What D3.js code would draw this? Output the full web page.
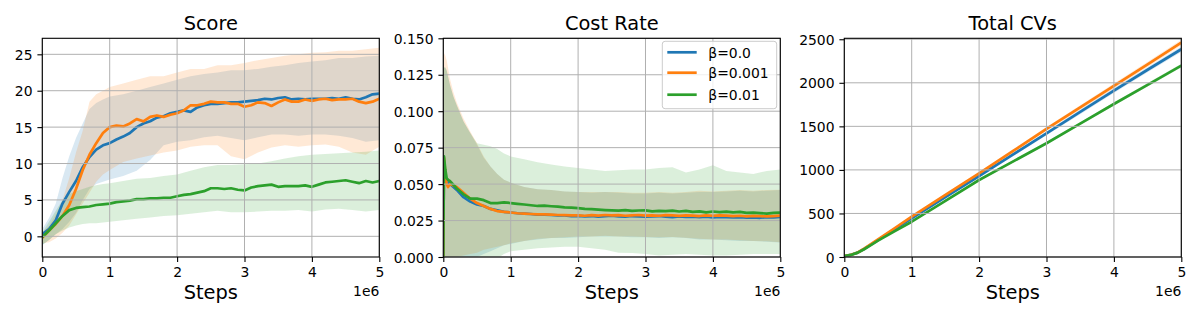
<!DOCTYPE html>
<html><head><meta charset="utf-8">
<script src="https://cdn.jsdelivr.net/npm/d3@7"></script>
<style>
body{margin:0;background:#fff}
svg{display:block}
text{font-family:"DejaVu Sans",sans-serif;fill:#000}
</style></head>
<body><svg id="c" width="1200" height="320"></svg>
<script>
// ---------- data (steps in units of 1e6) ----------
const seriesNames = ["β=0.0", "β=0.001", "β=0.01"];
const xTicks = [0, 1, 2, 3, 4, 5];
const xTickLabels = ["0", "1", "2", "3", "4", "5"];

// Score
const scoreSteps = [0,0.1,0.2,0.3,0.4,0.5,0.6,0.7,0.8,0.9,1,1.1,1.2,1.3,1.4,1.5,1.6,1.7,1.8,1.9,2,2.1,2.2,2.3,2.4,2.5,2.6,2.7,2.8,2.9,3,3.1,3.2,3.3,3.4,3.5,3.6,3.7,3.8,3.9,4,4.1,4.2,4.3,4.4,4.5,4.6,4.7,4.8,4.9,5];
const scoreB0 = [0.3,1.0,2.2,4.5,6.1,7.6,9.5,10.9,11.9,12.5,12.8,13.3,13.7,14.2,15.0,15.5,15.8,16.3,16.5,16.9,17.1,17.3,17.1,17.7,18.0,18.2,18.2,18.3,18.4,18.4,18.5,18.6,18.7,18.9,18.8,19.0,19.1,18.8,18.9,18.8,18.9,18.9,18.9,19.0,18.9,19.1,18.9,18.8,19.1,19.5,19.6];
const scoreB001 = [-0.2,0.8,1.7,2.8,4.3,6.5,9.1,11.2,12.8,14.2,15.0,15.2,15.1,15.5,16.1,15.8,16.4,16.6,16.4,16.7,16.9,17.3,18.0,18.0,18.2,18.5,18.4,18.4,18.2,18.2,17.8,18.0,18.4,18.3,17.9,18.4,18.8,18.5,18.5,18.8,18.6,18.8,18.9,18.7,18.8,18.8,18.9,18.5,18.3,18.5,18.9];
const scoreB01 = [-0.1,0.8,1.8,2.8,3.6,3.9,4.0,4.1,4.3,4.4,4.5,4.7,4.8,4.9,5.1,5.1,5.2,5.2,5.3,5.3,5.5,5.7,5.8,6.0,6.2,6.6,6.6,6.5,6.6,6.4,6.3,6.7,6.9,7.0,7.1,6.8,6.9,6.9,6.9,7.0,6.8,7.1,7.4,7.5,7.6,7.7,7.5,7.3,7.6,7.4,7.6];
const scoreBandSteps = [0,0.1,0.2,0.3,0.4,0.5,0.6,0.7,0.8,0.9,1,1.2,1.4,1.6,1.8,2,2.2,2.4,2.6,2.8,3,3.2,3.4,3.6,3.8,4,4.2,4.4,4.6,4.8,5];
const scoreB0Hi = [1,2.5,4.5,8,11,13.5,15.5,17.5,18.3,18.8,19.2,19.5,20,20.5,21,21.5,22,22.3,22.5,22.8,22.8,23,23.3,23.5,23.8,24,24.2,24.5,24.5,24.7,24.8];
const scoreB0Lo = [-1.2,-0.5,0.3,1,2,3.2,5,6.5,7.2,7.5,7.8,8.3,9,10.5,12.5,13,13.2,13.6,13.8,13.5,13.2,13.6,14,14,13.8,14,14,13.8,13.5,13,13.2];
const scoreB001Hi = [0.5,1.5,3,5,8,11.5,14.5,18.5,19.5,20,20.5,21,21.5,22,22,22.5,23,23,23.5,23.5,23.8,24.2,24.5,24.8,25,25.2,25.3,25.5,25.5,25.7,25.9];
const scoreB001Lo = [-1,-0.8,-0.3,0.5,1.5,3,4.5,6,7.5,8.5,9.1,10.2,10.7,11.1,11.5,11.8,12.3,12.5,12.5,11,10.6,11.5,12.2,12.5,12.3,12.5,12.6,12.3,11.5,11.2,12.3];
const scoreB01Hi = [0.5,2,3.5,5,5.8,6.2,6.5,6.8,7,7.2,7.3,7.6,7.9,8,8.3,8.5,9,9.5,9.8,9.8,9.9,10,10.3,10.7,11,11.2,11.3,11.4,11.5,11.6,11.8];
const scoreB01Lo = [-1.2,-0.5,0.3,0.8,1.2,1.5,1.7,1.8,1.8,1.9,2,2.2,2.4,2.6,2.8,2.9,3.1,3.3,3.5,3.3,3.3,3.4,3.5,3.5,3.6,3.4,3.7,3.8,3.6,3.4,3.6];
const scoreYTicks = [0, 5, 10, 15, 20, 25];
const scoreYTickLabels = ["0", "5", "10", "15", "20", "25"];

// Cost Rate
const costSteps = [0,0.01,0.03,0.05,0.07,0.1,0.2,0.3,0.4,0.5,0.6,0.7,0.8,0.9,1,1.1,1.2,1.3,1.4,1.5,1.6,1.7,1.8,1.9,2,2.1,2.2,2.3,2.4,2.5,2.6,2.7,2.8,2.9,3,3.1,3.2,3.3,3.4,3.5,3.6,3.7,3.8,3.9,4,4.1,4.2,4.3,4.4,4.5,4.6,4.7,4.8,4.9,5];
const costB0 = [0,0.066,0.056,0.052,0.051,0.050,0.046,0.041,0.038,0.036,0.035,0.033,0.032,0.031,0.0305,0.030,0.0298,0.0295,0.029,0.029,0.0288,0.0285,0.0285,0.028,0.0282,0.0278,0.0281,0.0276,0.028,0.0283,0.0279,0.0277,0.0281,0.0279,0.0276,0.0279,0.0281,0.0277,0.0274,0.0278,0.0275,0.0277,0.0273,0.0276,0.0272,0.0275,0.0273,0.0271,0.0274,0.0270,0.0272,0.0269,0.0273,0.0271,0.0275];
const costB001 = [0,0.068,0.057,0.050,0.048,0.050,0.048,0.044,0.040,0.037,0.035,0.033,0.0315,0.031,0.0305,0.030,0.0298,0.0295,0.0293,0.0292,0.029,0.0288,0.0287,0.0285,0.0286,0.0283,0.0287,0.0284,0.0288,0.0285,0.0287,0.0283,0.0286,0.0288,0.0284,0.0286,0.0283,0.0287,0.0285,0.0282,0.0286,0.0284,0.0281,0.0285,0.0283,0.0286,0.0284,0.0281,0.0283,0.0279,0.0282,0.0280,0.0278,0.0281,0.0284];
const costB01 = [0,0.069,0.060,0.054,0.053,0.052,0.047,0.043,0.040,0.040,0.039,0.037,0.037,0.0375,0.037,0.0365,0.036,0.0355,0.035,0.0352,0.0348,0.0345,0.034,0.0338,0.0335,0.033,0.0328,0.0325,0.0322,0.032,0.0318,0.0322,0.0316,0.0319,0.032,0.0313,0.0317,0.0314,0.0318,0.0312,0.0316,0.0309,0.0313,0.0306,0.0312,0.0308,0.0311,0.0306,0.0309,0.0303,0.0305,0.0301,0.0298,0.0302,0.0305];
const costBandSteps = [0,0.01,0.03,0.05,0.1,0.15,0.2,0.3,0.4,0.5,0.6,0.7,0.8,0.9,1,1.2,1.4,1.6,1.8,2,2.2,2.4,2.6,2.8,3,3.2,3.4,3.6,3.8,4,4.2,4.4,4.6,4.8,5];
const costB0Hi = [0,0.13,0.13,0.128,0.118,0.11,0.104,0.093,0.085,0.077,0.068,0.062,0.057,0.053,0.051,0.048,0.0465,0.046,0.045,0.0445,0.044,0.0445,0.044,0.0435,0.0435,0.044,0.0435,0.044,0.0445,0.0445,0.045,0.0455,0.045,0.0455,0.046];
const costB0Lo = [0,-0.01,-0.01,-0.01,-0.008,-0.006,-0.004,-0.002,-0.001,0,0.002,0.004,0.006,0.008,0.009,0.011,0.012,0.013,0.013,0.0135,0.014,0.014,0.014,0.0135,0.0135,0.013,0.0135,0.013,0.012,0.012,0.0115,0.011,0.011,0.0105,0.010];
const costB001Hi = [0,0.14,0.138,0.135,0.122,0.113,0.106,0.095,0.086,0.078,0.069,0.062,0.057,0.053,0.051,0.048,0.0465,0.046,0.045,0.0445,0.0445,0.0445,0.0445,0.044,0.044,0.0445,0.044,0.0445,0.0455,0.045,0.0455,0.046,0.0455,0.046,0.0462];
const costB001Lo = [0,-0.005,-0.004,-0.003,-0.002,-0.001,0,0.001,0.002,0.003,0.005,0.006,0.007,0.008,0.0095,0.011,0.0125,0.013,0.0135,0.014,0.014,0.0145,0.014,0.014,0.0138,0.0135,0.0138,0.0132,0.0125,0.012,0.012,0.0115,0.011,0.0108,0.0102];
const costB01Hi = [0,0.13,0.13,0.128,0.118,0.11,0.104,0.093,0.085,0.078,0.077,0.076,0.074,0.071,0.069,0.067,0.065,0.0635,0.062,0.061,0.06,0.059,0.0595,0.06,0.06,0.061,0.0615,0.058,0.06,0.063,0.059,0.058,0.057,0.059,0.06];
const costB01Lo = [0,-0.02,-0.02,-0.02,-0.018,-0.016,-0.014,-0.012,-0.01,-0.008,-0.005,-0.003,-0.001,0.002,0.004,0.005,0.006,0.0065,0.007,0.007,0.006,0.005,0.003,0.0027,0.002,0.001,0.0015,0.002,0.0015,0.001,0.001,0.0015,0.002,0.002,0.002];
const costYTicks = [0, 0.025, 0.05, 0.075, 0.1, 0.125, 0.15];
const costYTickLabels = ["0.000", "0.025", "0.050", "0.075", "0.100", "0.125", "0.150"];

// Total CVs
const cvSteps = [0,0.1,0.2,0.3,0.4,0.5,0.75,1,1.5,2,2.5,3,3.5,4,4.5,5];
const cvB0 = [10,25,50,95,145,195,320,444,687,930,1175,1420,1665,1910,2150,2385];
const cvB001 = [10,25,52,98,150,203,333,463,712,961,1215,1470,1717,1964,2212,2461];
const cvB01 = [10,24,50,92,140,188,297,405,645,884,1095,1306,1531,1757,1977,2197];
const cvB0Hi = [12,28,54,100,151,203,330,456,702,948,1195,1442,1690,1938,2180,2417];
const cvB0Lo = [8,22,46,90,139,187,310,432,672,912,1155,1398,1640,1882,2120,2353];
const cvB001Hi = [12,28,56,103,156,211,343,475,727,979,1235,1492,1742,1992,2242,2493];
const cvB001Lo = [8,22,48,93,144,195,323,451,697,943,1195,1448,1692,1936,2182,2429];
const cvB01Hi = [11,26,53,96,145,194,305,414,656,896,1108,1321,1547,1775,1997,2218];
const cvB01Lo = [9,22,47,88,135,182,289,396,634,872,1082,1291,1515,1739,1957,2176];
const cvYTicks = [0, 500, 1000, 1500, 2000, 2500];
const cvYTickLabels = ["0", "500", "1000", "1500", "2000", "2500"];

// ---------- drawing ----------
const colors = ["#1f77b4", "#ff7f0e", "#2ca02c"];
const svg = d3.select("#c");
const TOP = 38.3, BOTTOM = 257, W = 337;
const H = BOTTOM - TOP;
const TICK_FS = 13.9, TITLE_FS = 19.4;

function panel(opt, idx) {
  const g = svg.append("g").attr("transform", `translate(${opt.left},${TOP})`);
  const x = d3.scaleLinear().domain([0, 5]).range([0, W]);
  const y = d3.scaleLinear().domain(opt.yDomain).range([H, 0]);
  const clipId = "clip" + idx;
  g.append("clipPath").attr("id", clipId).append("rect").attr("width", W).attr("height", H);
  const plot = g.append("g").attr("clip-path", `url(#${clipId})`);

  // bands
  opt.bands.forEach((b, i) => {
    const area = d3.area()
      .x(j => x(b.steps[j])).y0(j => y(b.lo[j])).y1(j => y(b.hi[j]));
    plot.append("path").attr("d", area(d3.range(b.steps.length)))
      .attr("fill", colors[i]).attr("fill-opacity", 0.17).attr("stroke", "none");
  });

  // grid
  const grid = g.append("g");
  xTicks.forEach(t => grid.append("line").attr("x1", x(t)).attr("x2", x(t)).attr("y1", 0).attr("y2", H)
    .attr("stroke", "#b0b0b0").attr("stroke-width", 1));
  opt.yTicks.forEach(t => grid.append("line").attr("x1", 0).attr("x2", W).attr("y1", y(t)).attr("y2", y(t))
    .attr("stroke", "#b0b0b0").attr("stroke-width", 1));

  // lines
  opt.lines.forEach((l, i) => {
    const line = d3.line().x(j => x(l.steps[j])).y(j => y(l.v[j]));
    plot.append("path").attr("d", line(d3.range(l.steps.length)))
      .attr("fill", "none").attr("stroke", colors[i]).attr("stroke-width", 2.7)
      .attr("stroke-linejoin", "round");
  });

  // spines
  g.append("rect").attr("width", W).attr("height", H).attr("fill", "none")
    .attr("stroke", "#000").attr("stroke-width", 1.1);

  // axes ticks via d3 axes
  const xAxis = d3.axisBottom(x).tickValues(xTicks).tickFormat((d, i) => xTickLabels[i])
    .tickSizeInner(4.9).tickSizeOuter(0).tickPadding(4.9);
  const xa = g.append("g").attr("transform", `translate(0,${H})`).call(xAxis);
  xa.select(".domain").remove();
  xa.selectAll("line").attr("stroke", "#000").attr("stroke-width", 1.1);
  xa.selectAll("text").attr("font-family", "DejaVu Sans").attr("font-size", TICK_FS).attr("fill", "#000")
    .attr("dy", null).attr("y", 19.5);

  const yAxis = d3.axisLeft(y).tickValues(opt.yTicks).tickFormat((d, i) => opt.yTickLabels[i])
    .tickSizeInner(4.9).tickSizeOuter(0).tickPadding(4.9);
  const ya = g.append("g").call(yAxis);
  ya.select(".domain").remove();
  ya.selectAll("line").attr("stroke", "#000").attr("stroke-width", 1.1);
  ya.selectAll("text").attr("font-family", "DejaVu Sans").attr("font-size", TICK_FS).attr("fill", "#000")
    .attr("dy", "0.36em");

  // title, xlabel, offset
  g.append("text").attr("x", W / 2).attr("y", 30 - TOP).attr("text-anchor", "middle")
    .attr("font-size", TITLE_FS).text(opt.title);
  g.append("text").attr("x", W / 2).attr("y", 298.7 - TOP).attr("text-anchor", "middle")
    .attr("font-size", TITLE_FS).text("Steps");
  g.append("text").attr("x", W).attr("y", 295.7 - TOP).attr("text-anchor", "end")
    .attr("font-size", TICK_FS).text("1e6");
  return g;
}

panel({
  left: 42.3, title: "Score", yDomain: [-2.84, 27.2], yTicks: scoreYTicks, yTickLabels: scoreYTickLabels,
  bands: [
    {steps: scoreBandSteps, hi: scoreB0Hi, lo: scoreB0Lo},
    {steps: scoreBandSteps, hi: scoreB001Hi, lo: scoreB001Lo},
    {steps: scoreBandSteps, hi: scoreB01Hi, lo: scoreB01Lo}],
  lines: [{steps: scoreSteps, v: scoreB0}, {steps: scoreSteps, v: scoreB001}, {steps: scoreSteps, v: scoreB01}]
}, 0);

const costPanel = panel({
  left: 443.3, title: "Cost Rate", yDomain: [0, 0.15], yTicks: costYTicks, yTickLabels: costYTickLabels,
  bands: [
    {steps: costBandSteps, hi: costB0Hi, lo: costB0Lo},
    {steps: costBandSteps, hi: costB001Hi, lo: costB001Lo},
    {steps: costBandSteps, hi: costB01Hi, lo: costB01Lo}],
  lines: [{steps: costSteps, v: costB0}, {steps: costSteps, v: costB001}, {steps: costSteps, v: costB01}]
}, 1);

panel({
  left: 844.3, title: "Total CVs", yDomain: [0, 2511], yTicks: cvYTicks, yTickLabels: cvYTickLabels,
  bands: [
    {steps: cvSteps, hi: cvB0Hi, lo: cvB0Lo},
    {steps: cvSteps, hi: cvB001Hi, lo: cvB001Lo},
    {steps: cvSteps, hi: cvB01Hi, lo: cvB01Lo}],
  lines: [{steps: cvSteps, v: cvB0}, {steps: cvSteps, v: cvB001}, {steps: cvSteps, v: cvB01}]
}, 2);

// legend (in Cost Rate panel, upper right)
const lg = svg.append("g").attr("transform", "translate(662.3,41.3)");
lg.append("rect").attr("width", 114.4).attr("height", 67.4).attr("rx", 2.8)
  .attr("fill", "#fff").attr("fill-opacity", 0.8).attr("stroke", "#cccccc").attr("stroke-width", 1);
const rowY = [11, 31.4, 53.4];
seriesNames.forEach((name, i) => {
  lg.append("line").attr("x1", 5).attr("x2", 34.4).attr("y1", rowY[i]).attr("y2", rowY[i])
    .attr("stroke", colors[i]).attr("stroke-width", 2.7);
  lg.append("text").attr("x", 46).attr("y", rowY[i] + 5.3).attr("font-size", TICK_FS).text(name);
});
</script>
</body></html>
